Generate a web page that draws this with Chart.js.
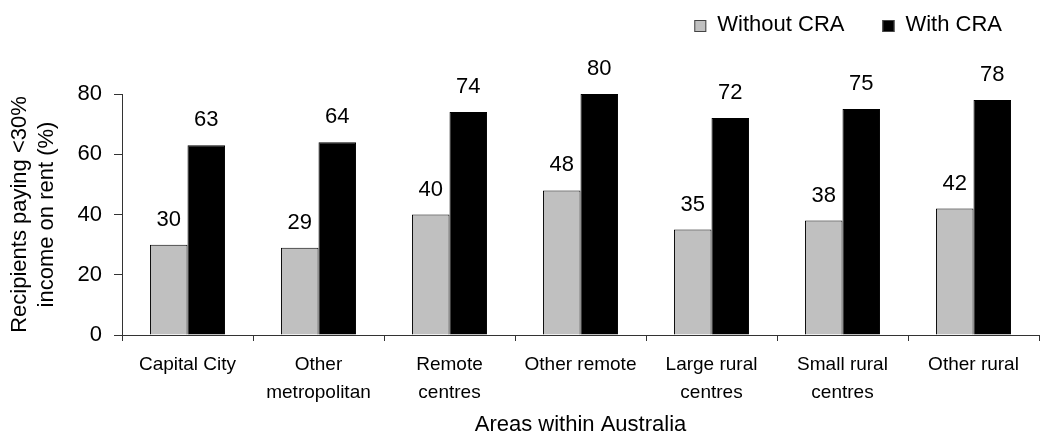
<!DOCTYPE html>
<html>
<head>
<meta charset="utf-8">
<title>Rent affordability by area</title>
<script src="https://cdn.jsdelivr.net/npm/chart.js@4/dist/chart.umd.min.js"></script>
<style>
  html, body { margin: 0; padding: 0; background: #ffffff; }
  #wrap { width: 1040px; height: 441px; }
</style>
</head>
<body>
<div id="wrap"><canvas id="chart" width="1040" height="441"></canvas></div>
<script>
// Areas within Australia (multi-line category labels)
const categories = [
  ['Capital City'],
  ['Other', 'metropolitan'],
  ['Remote', 'centres'],
  ['Other remote'],
  ['Large rural', 'centres'],
  ['Small rural', 'centres'],
  ['Other rural']
];

// Share of recipients paying less than 30% of income on rent (%)
const withoutCRA = [30, 29, 40, 48, 35, 38, 42];
const withCRA = [63, 64, 74, 80, 72, 75, 78];

const seriesNames = ['Without CRA', 'With CRA'];
const yTicks = [0, 20, 40, 60, 80];

const FONT = 'Arial, "Liberation Sans", Helvetica, sans-serif';

// Value labels above each bar
const barValueLabels = {
  id: 'barValueLabels',
  afterDatasetsDraw(chart) {
    const ctx = chart.ctx;
    ctx.save();
    ctx.font = '22px ' + FONT;
    ctx.fillStyle = '#000';
    ctx.textAlign = 'center';
    ctx.textBaseline = 'middle';
    chart.data.datasets.forEach((ds, di) => {
      const meta = chart.getDatasetMeta(di);
      meta.data.forEach((bar, i) => {
        ctx.fillText(String(ds.data[i]), bar.x, bar.y - 25);
      });
    });
    ctx.restore();
  }
};

// Legend in the top-right corner, built from the datasets
const cornerLegend = {
  id: 'cornerLegend',
  afterDraw(chart) {
    const ctx = chart.ctx;
    const right = 1002, cy = 25, box = 12, textGap = 11, itemGap = 38;
    ctx.save();
    ctx.font = '22px ' + FONT;
    ctx.textBaseline = 'middle';
    ctx.textAlign = 'left';
    const items = chart.data.datasets.map(ds => ({
      label: ds.label, fill: ds.backgroundColor,
      w: ctx.measureText(ds.label).width
    }));
    let total = 0;
    items.forEach((it, i) => { total += box + textGap + it.w + (i ? itemGap : 0); });
    let x = right - total;
    items.forEach(it => {
      ctx.fillStyle = it.fill;
      ctx.fillRect(x, cy - box / 2 + 1, box, box);
      ctx.strokeStyle = '#444';
      ctx.lineWidth = 1;
      ctx.strokeRect(x + 0.5, cy - box / 2 + 1.5, box - 1, box - 1);
      ctx.fillStyle = '#000';
      ctx.fillText(it.label, x + box + textGap, cy);
      x += box + textGap + it.w + itemGap;
    });
    ctx.restore();
  }
};

new Chart(document.getElementById('chart'), {
  type: 'bar',
  data: {
    labels: categories,
    datasets: [
      {
        label: seriesNames[0],
        data: withoutCRA,
        backgroundColor: '#C0C0C0',
        borderColor: '#000000',
        borderWidth: 1,
        categoryPercentage: 0.573,
        barPercentage: 1.0
      },
      {
        label: seriesNames[1],
        data: withCRA,
        backgroundColor: '#000000',
        borderColor: '#000000',
        borderWidth: 1,
        categoryPercentage: 0.573,
        barPercentage: 1.0
      }
    ]
  },
  options: {
    responsive: false,
    animation: false,
    devicePixelRatio: 1,
    layout: { padding: { top: 94, right: 1, bottom: 0, left: 0 } },
    plugins: {
      legend: { display: false },
      tooltip: { enabled: false }
    },
    scales: {
      x: {
        offset: true,
        grid: {
          offset: true,
          drawOnChartArea: false,
          drawTicks: true,
          tickLength: 6,
          color: '#333'
        },
        border: { display: true, color: '#333', width: 1 },
        ticks: {
          color: '#000',
          padding: 10,
          maxRotation: 0,
          autoSkip: false,
          font: { family: FONT, size: 19, lineHeight: 1.47 }
        },
        title: {
          display: true,
          text: 'Areas within Australia',
          color: '#000',
          padding: { top: 0, bottom: 3 },
          font: { family: FONT, size: 22, lineHeight: 1.2 }
        },
        afterFit(scale) { scale.height = 106; }
      },
      y: {
        min: 0,
        max: 80,
        afterBuildTicks(scale) { scale.ticks = yTicks.map(v => ({ value: v })); },
        grid: {
          drawOnChartArea: false,
          drawTicks: true,
          tickLength: 8,
          color: '#333'
        },
        border: { display: true, color: '#333', width: 1 },
        ticks: {
          color: '#000',
          padding: 12,
          font: { family: FONT, size: 22 }
        },
        title: {
          display: true,
          text: ['Recipients paying <30%', 'income on rent (%)'],
          color: '#000',
          padding: { top: 7, bottom: 0 },
          font: { family: FONT, size: 22, lineHeight: 1.2 }
        },
        afterFit(scale) { scale.width = 122; }
      }
    }
  },
  plugins: [barValueLabels, cornerLegend]
});
</script>
</body>
</html>
